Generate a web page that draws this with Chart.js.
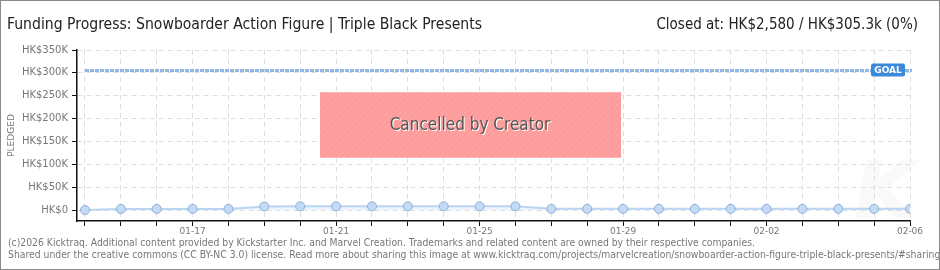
<!DOCTYPE html>
<html>
<head>
<meta charset="utf-8">
<script src="https://cdn.jsdelivr.net/npm/chart.js@4.4.1/dist/chart.umd.min.js"></script>
<style>
  html, body { margin: 0; padding: 0; background: #fff; }
  #wrap { width: 940px; height: 270px; position: relative; }
</style>
</head>
<body>
<div id="wrap"><canvas id="grafico_funding" width="940" height="270"></canvas></div>
<script>
// dias da campanha
var dias = ['01-14', '01-15', '01-16', '01-17', '01-18', '01-19', '01-20', '01-21', '01-22', '01-23',
            '01-24', '01-25', '01-26', '01-27', '01-28', '01-29', '01-30', '01-31', '02-01', '02-02',
            '02-03', '02-04', '02-05', '02-06'];
// valor arrecadado (HK$)
var arrecadado = [0, 2300, 2400, 2400, 2500, 7900, 8000, 8000, 8000, 8100, 8100, 8100, 8200,
                  2580, 2580, 2580, 2580, 2580, 2580, 2580, 2580, 2580, 2580, 2580];
var meta = 305300;
var ticksY = [0, 25000, 50000, 75000, 100000, 125000, 150000, 175000, 200000, 225000, 250000, 275000, 300000, 325000, 350000];

var fonteTitulo = "'Liberation Sans Narrow', 'DejaVu Sans Condensed', sans-serif";
var fonteEixo = "'DejaVu Sans', sans-serif";

function padraoListras(ctx){
  var c = document.createElement('canvas');
  c.width = 6; c.height = 6;
  var g = c.getContext('2d');
  g.fillStyle = '#ffa0a0';
  g.fillRect(0, 0, 6, 6);
  g.strokeStyle = '#f89595';
  g.lineWidth = 1;
  g.beginPath();
  g.moveTo(0, 6); g.lineTo(6, 0);
  g.moveTo(-3, 3); g.lineTo(3, -3);
  g.moveTo(3, 9); g.lineTo(9, 3);
  g.stroke();
  return ctx.createPattern(c, 'repeat');
}

var extras = {
  id: 'extras',
  beforeDraw: function(chart){
    var ctx = chart.ctx;
    ctx.save();
    ctx.fillStyle = '#fff';
    ctx.fillRect(0, 0, chart.width, chart.height);
    // marca d'agua
    ctx.fillStyle = '#f9f9f9';
    ctx.font = "italic bold 80px 'DejaVu Sans', sans-serif";
    ctx.textAlign = 'center';
    ctx.textBaseline = 'alphabetic';
    ctx.fillText('K', 885, 218);
    ctx.restore();
  },
  afterDatasetsDraw: function(chart){
    var ctx = chart.ctx;
    var x = chart.scales.x, y = chart.scales.y;
    ctx.save();
    // linha da meta
    var yMeta = Math.round(y.getPixelForValue(meta)) + 0.5;
    ctx.strokeStyle = '#93b7e4';
    ctx.lineWidth = 3;
    ctx.setLineDash([4, 1]);
    ctx.beginPath();
    ctx.moveTo(x.getPixelForValue(0), yMeta);
    ctx.lineTo(x.getPixelForValue(dias.length - 1) + 2, yMeta);
    ctx.stroke();
    ctx.setLineDash([]);
    // etiqueta GOAL
    var gx = x.getPixelForValue(dias.length - 1) - 39;
    ctx.fillStyle = '#3c89d9';
    ctx.beginPath();
    ctx.roundRect(gx, yMeta - 7, 34, 13, 2);
    ctx.fill();
    ctx.fillStyle = '#fff';
    ctx.font = "bold 9px 'DejaVu Sans', sans-serif";
    ctx.textAlign = 'center';
    ctx.textBaseline = 'middle';
    ctx.fillText('GOAL', gx + 17, yMeta);

    // caixa cancelado
    var cx = chart.width / 2;
    ctx.fillStyle = padraoListras(ctx);
    ctx.fillRect(cx - 150, 92, 301, 66);
    ctx.fillStyle = '#ffb3b3';
    ctx.fillRect(cx - 150, 92, 301, 1);
    ctx.fillRect(cx - 150, 157, 301, 1);
    ctx.font = "17px " + fonteTitulo;
    ctx.textAlign = 'center';
    ctx.textBaseline = 'middle';
    ctx.fillStyle = '#ffffff';
    ctx.fillText('Cancelled by Creator', cx + 1, 127);
    ctx.fillStyle = '#555';
    ctx.fillText('Cancelled by Creator', cx, 126);
    ctx.restore();
  },
  afterDraw: function(chart){
    var ctx = chart.ctx;
    ctx.save();
    ctx.textBaseline = 'alphabetic';
    ctx.fillStyle = '#222';
    ctx.font = "15.6px " + fonteTitulo;
    ctx.textAlign = 'left';
    ctx.fillText('Funding Progress: Snowboarder Action Figure | Triple Black Presents', 7, 29);
    ctx.font = "15px " + fonteTitulo;
    ctx.textAlign = 'right';
    ctx.fillText('Closed at: HK$2,580 / HK$305.3k (0%)', 918, 29);

    ctx.fillStyle = '#777';
    ctx.font = "10.3px " + fonteTitulo;
    ctx.textAlign = 'left';
    ctx.fillText('(c)2026 Kicktraq. Additional content provided by Kickstarter Inc. and Marvel Creation. Trademarks and related content are owned by their respective companies.', 8, 246);
    ctx.fillText('Shared under the creative commons (CC BY-NC 3.0) license. Read more about sharing this image at www.kicktraq.com/projects/marvelcreation/snowboarder-action-figure-triple-black-presents/#sharing', 8, 258);

    ctx.strokeStyle = '#8a8a8a';
    ctx.lineWidth = 2;
    ctx.strokeRect(0, 0, chart.width, chart.height);
    ctx.restore();
  }
};

new Chart(document.getElementById('grafico_funding'), {
  type: 'line',
  data: {
    datasets: [{
      label: 'Pledged',
      data: arrecadado.map(function(v, i){ return {x: i, y: v}; }),
      borderColor: '#b9d5f3',
      borderWidth: 2,
      backgroundColor: 'rgba(200,222,246,0.35)',
      fill: 'origin',
      tension: 0,
      pointRadius: 4.5,
      pointBackgroundColor: '#c3dbf7',
      pointBorderColor: '#8eafd6',
      pointBorderWidth: 1
    }]
  },
  options: {
    responsive: false,
    animation: false,
    layout: { padding: { top: 50, right: 30, bottom: 0, left: 0 } },
    plugins: { legend: { display: false }, tooltip: { enabled: false } },
    scales: {
      x: {
        type: 'linear',
        min: -0.223,
        max: dias.length - 1,
        afterBuildTicks: function(s){ s.ticks = dias.map(function(d, i){ return {value: i}; }); },
        afterFit: function(s){ s.height = 49; },
        ticks: {
          autoSkip: false,
          maxRotation: 0,
          padding: 0,
          color: '#777',
          font: { family: fonteEixo, size: 9 },
          callback: function(v){ return (v - 3) % 4 === 0 ? dias[v] : ''; }
        },
        grid: {
          color: '#dedede',
          tickColor: '#111',
          tickLength: 5,
          tickBorderDash: []
        },
        border: { color: '#111', width: 1.5, dash: [5, 4] }
      },
      y: {
        min: -24000,
        max: 350000,
        afterBuildTicks: function(s){ s.ticks = ticksY.map(function(v){ return {value: v}; }); },
        afterFit: function(s){ s.width = 77; },
        ticks: {
          padding: 4,
          color: '#777',
          font: { family: fonteEixo, size: 10 },
          callback: function(v){ return v % 50000 === 0 ? 'HK$' + (v === 0 ? '0' : (v / 1000) + 'K') : ''; }
        },
        grid: {
          color: function(c){ return c.tick && c.tick.value % 50000 === 0 ? '#dedede' : 'rgba(0,0,0,0)'; },
          tickColor: function(c){ return c.tick && c.tick.value % 50000 === 0 ? '#111' : '#e02020'; },
          tickLength: 5,
          tickBorderDash: []
        },
        border: { color: '#111', width: 1.5, dash: [5, 4] },
        title: {
          display: true,
          text: 'PLEDGED',
          color: '#777',
          font: { family: fonteEixo, size: 9 },
          padding: { top: 6, bottom: 0 }
        }
      }
    }
  },
  plugins: [extras]
});
</script>
</body>
</html>
